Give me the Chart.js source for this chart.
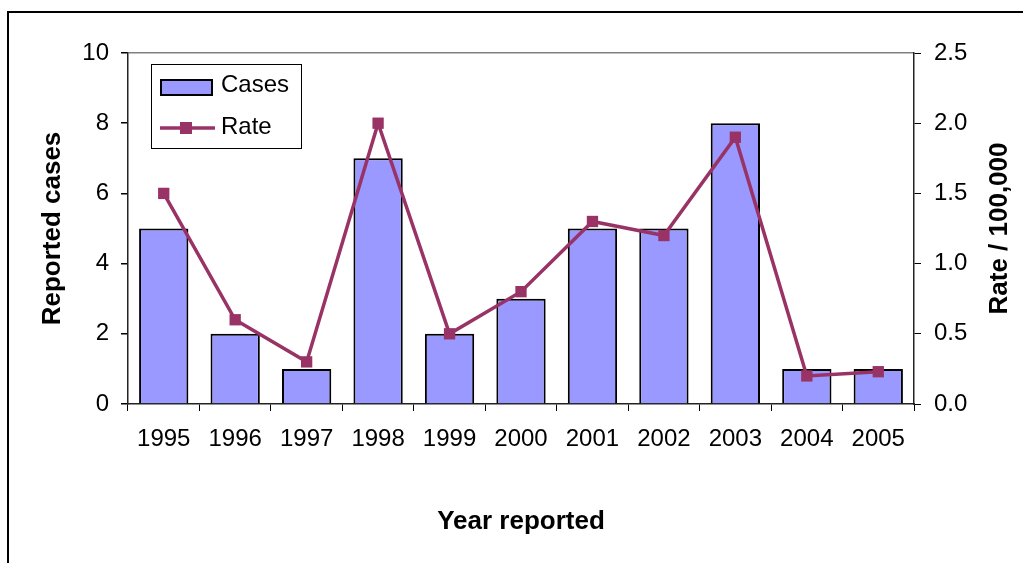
<!DOCTYPE html>
<html>
<head>
<meta charset="utf-8">
<script src="https://cdn.jsdelivr.net/npm/chart.js@4/dist/chart.umd.min.js"></script>
<style>
  html, body { margin: 0; padding: 0; background: #fff; }
  #wrap { position: relative; width: 1023px; height: 563px; overflow: hidden; }
  #frame { position: absolute; left: 7px; top: 11px; right: -4px; bottom: -4px;
           border-left: 2px solid #000; border-top: 2px solid #000; pointer-events: none; }
  canvas { position: absolute; left: 0; top: 0; }
</style>
</head>
<body>
<div id="wrap">
  <canvas id="chart" width="1023" height="563"></canvas>
  <div id="frame"></div>
</div>
<script>
// Reported cases and rate per 100,000, by year
const years = ['1995', '1996', '1997', '1998', '1999', '2000', '2001', '2002', '2003', '2004', '2005'];
const cases = [5, 2, 1, 7, 2, 3, 5, 5, 8, 1, 1];
const rates = [1.5, 0.6, 0.3, 2.0, 0.5, 0.8, 1.3, 1.2, 1.9, 0.2, 0.23];
const casesTicks = [0, 2, 4, 6, 8, 10];
const rateTicks = [0, 0.5, 1.0, 1.5, 2.0, 2.5];
const rateTitle = 'Rate / 100,000';

const FONT = '"Liberation Sans", Arial, sans-serif';
const BAR_FILL = '#9999FF';
const LINE_COLOR = '#993366';

// Boxed legend in the upper-left corner of the plot area
const boxedLegend = {
  id: 'boxedLegend',
  afterDraw(chart) {
    const { ctx, chartArea } = chart;
    const ds = chart.data.datasets;
    const bar = ds.find(d => d.type === 'bar');
    const line = ds.find(d => d.type === 'line');
    const x0 = chartArea.left + 23, y0 = chartArea.top + 11;
    const w = 150, h = 84;
    ctx.save();
    ctx.fillStyle = '#fff';
    ctx.fillRect(x0, y0, w, h);
    ctx.strokeStyle = '#000';
    ctx.lineWidth = 1;
    ctx.strokeRect(x0 + 0.5, y0 + 0.5, w, h);

    // bar swatch
    ctx.fillStyle = bar.backgroundColor;
    ctx.fillRect(x0 + 10, y0 + 16, 51, 15);
    ctx.lineWidth = 2;
    ctx.strokeStyle = '#000';
    ctx.strokeRect(x0 + 10, y0 + 16, 51, 15);

    // line swatch with marker
    const ly = y0 + 64;
    ctx.strokeStyle = line.borderColor;
    ctx.lineWidth = 3.5;
    ctx.beginPath();
    ctx.moveTo(x0 + 9, ly);
    ctx.lineTo(x0 + 64, ly);
    ctx.stroke();
    ctx.fillStyle = line.pointBackgroundColor;
    ctx.fillRect(x0 + 29, ly - 6, 12, 12);

    ctx.fillStyle = '#000';
    ctx.font = '24px ' + FONT;
    ctx.textBaseline = 'middle';
    ctx.textAlign = 'left';
    ctx.fillText(bar.label, x0 + 70, y0 + 21);
    ctx.fillText(line.label, x0 + 70, ly - 1);
    ctx.restore();
  }
};

// Right-axis title, reading bottom to top like the left one
const rightTitle = {
  id: 'rightTitle',
  afterDraw(chart) {
    const { ctx } = chart;
    const s = chart.scales.y1;
    ctx.save();
    ctx.translate(s.right - 23, (chart.chartArea.top + chart.chartArea.bottom) / 2);
    ctx.rotate(-Math.PI / 2);
    ctx.fillStyle = '#000';
    ctx.font = 'bold 26px ' + FONT;
    ctx.textAlign = 'center';
    ctx.textBaseline = 'middle';
    ctx.fillText(rateTitle, 0, 0);
    ctx.restore();
  }
};

new Chart(document.getElementById('chart'), {
  data: {
    labels: years,
    datasets: [
      {
        type: 'line',
        label: 'Rate',
        data: rates,
        yAxisID: 'y1',
        borderColor: LINE_COLOR,
        borderWidth: 3.5,
        tension: 0,
        pointStyle: 'rect',
        pointRadius: 8,
        pointBorderWidth: 0,
        pointBackgroundColor: LINE_COLOR,
        order: 0
      },
      {
        type: 'bar',
        label: 'Cases',
        data: cases,
        yAxisID: 'y',
        backgroundColor: BAR_FILL,
        borderColor: '#000',
        borderWidth: 2,
        categoryPercentage: 1.0,
        barPercentage: 0.69,
        order: 1
      }
    ]
  },
  options: {
    responsive: false,
    devicePixelRatio: 1,
    animation: false,
    layout: { padding: { top: 53, left: 8, right: 0, bottom: 0 } },
    plugins: {
      legend: { display: false },
      tooltip: { enabled: false }
    },
    scales: {
      x: {
        type: 'category',
        afterFit(scale) { scale.height = 159; },
        grid: { drawOnChartArea: false, offset: true, tickLength: 7, tickColor: '#000', tickWidth: 1 },
        border: { color: '#222', width: 1.5 },
        ticks: { font: { family: FONT, size: 24 }, color: '#000', padding: 14, maxRotation: 0, autoSkip: false },
        title: {
          display: true, text: 'Year reported', color: '#000',
          font: { family: FONT, size: 26, weight: 'bold' },
          padding: { top: 26, bottom: 26 }
        }
      },
      y: {
        position: 'left',
        min: 0, max: 10,
        afterFit(scale) { scale.width = 120; },
        afterBuildTicks(scale) { scale.ticks = casesTicks.map(v => ({ value: v })); },
        grid: {
          drawOnChartArea: true,
          color: c => (c.tick && c.tick.value === 10 ? '#808080' : 'rgba(0,0,0,0)'),
          tickColor: '#000', tickLength: 7, lineWidth: 1.5
        },
        border: { color: '#222', width: 1.5 },
        ticks: { font: { family: FONT, size: 24 }, color: '#000', padding: 12 },
        title: {
          display: true, text: 'Reported cases', color: '#000',
          font: { family: FONT, size: 26, weight: 'bold' },
          padding: { top: 29, bottom: 29 }
        }
      },
      y1: {
        position: 'right',
        min: 0, max: 2.5,
        afterFit(scale) { scale.width = 109; },
        afterBuildTicks(scale) { scale.ticks = rateTicks.map(v => ({ value: v })); },
        grid: { drawOnChartArea: false, tickColor: '#000', tickLength: 7 },
        border: { color: '#222', width: 1.5 },
        ticks: {
          font: { family: FONT, size: 24 }, color: '#000', padding: 13,
          callback: v => Number(v).toFixed(1)
        },
        title: { display: false }
      }
    }
  },
  plugins: [boxedLegend, rightTitle]
});
</script>
</body>
</html>
